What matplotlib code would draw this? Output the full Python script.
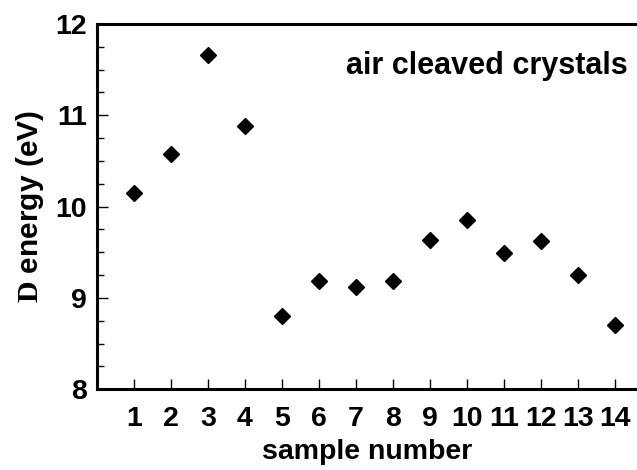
import matplotlib
matplotlib.use("Agg")
import matplotlib.pyplot as plt
from matplotlib.ticker import MultipleLocator

# style
plt.rcParams.update({
    "font.family": "Liberation Sans",
    "font.weight": "bold",
    "mathtext.fontset": "custom",
    "mathtext.bf": "Liberation Serif:bold",
    "mathtext.rm": "Liberation Sans:bold",
})

# data
samples = [1, 2, 3, 4, 5, 6, 7, 8, 9, 10, 11, 12, 13, 14]
energy = [10.15, 10.58, 11.66, 10.88, 8.80, 9.19, 9.12, 9.19, 9.63, 9.85, 9.49, 9.62, 9.25, 8.70]
x_ticks = samples
y_ticks = [8, 9, 10, 11, 12]

fig = plt.figure(figsize=(6.37, 4.70), dpi=100)
ax = fig.add_axes([0.152, 0.172, 0.848, 0.777])

ax.plot(samples, energy, linestyle="none", marker="D", markersize=8.5,
        color="black", clip_on=False)

ax.set_xlim(0, 14.6)
ax.set_ylim(8, 12)
ax.set_xticks(x_ticks)
ax.set_yticks(y_ticks)
ax.yaxis.set_minor_locator(MultipleLocator(0.25))

ax.tick_params(axis="both", which="both", direction="in", width=1.0,
               labelsize=20.5)
ax.tick_params(axis="y", which="major", length=8, pad=7)
ax.tick_params(axis="y", which="minor", length=5)
ax.tick_params(axis="x", which="major", length=7, pad=12)

for s in ["left", "bottom", "top"]:
    ax.spines[s].set_linewidth(2.2)
ax.spines["right"].set_visible(False)

ax.set_xlabel("sample number", fontsize=20.5, fontweight="bold", labelpad=5)
ax.set_ylabel(r"$\mathbf{D}$ energy (eV)", fontsize=21.5, fontweight="bold", labelpad=7)

ax.text(0.983, 0.885, "air cleaved crystals", transform=ax.transAxes,
        ha="right", va="center", fontsize=22, fontweight="bold")

fig.savefig("out.png", dpi=100)
